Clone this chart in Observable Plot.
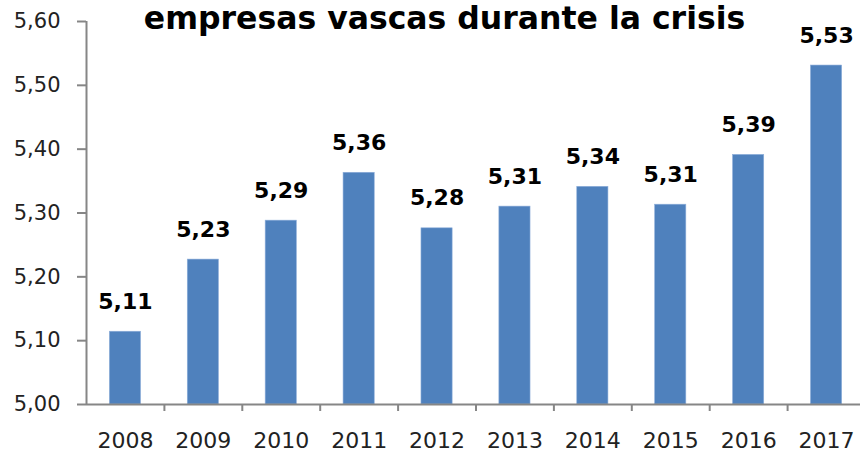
<!DOCTYPE html>
<html>
<head>
<meta charset="utf-8">
<script src="https://cdn.jsdelivr.net/npm/d3@7"></script>
<script src="https://cdn.jsdelivr.net/npm/@observablehq/plot@0.6"></script>
<style>
  html, body { margin: 0; padding: 0; background: #fff; }
  #chart svg { display: block; }
</style>
</head>
<body>
<div id="chart"></div>
<script>
const years = ["2008","2009","2010","2011","2012","2013","2014","2015","2016","2017"];
const values = [5.114, 5.227, 5.288, 5.363, 5.276, 5.310, 5.341, 5.313, 5.391, 5.531];
const yTicks = [5.0, 5.1, 5.2, 5.3, 5.4, 5.5, 5.6];
const title = "empresas vascas durante la crisis";

const data = years.map((y, i) => ({year: y, value: values[i]}));
const fmt = v => v.toFixed(2).replace(".", ",");

const W = 860, H = 452;
const xRange = [86, 865];
const step = (xRange[1] - xRange[0]) / years.length;
const axisColor = "#868686";
const yMin = yTicks[0], yMax = yTicks[yTicks.length - 1];

const chart = Plot.plot({
  width: W,
  height: H,
  marginLeft: 86,
  marginRight: 0,
  marginTop: 21,
  marginBottom: 48,
  style: {fontFamily: "DejaVu Sans", fontSize: "21px", color: "#222", background: "#fff"},
  x: {domain: years, range: xRange, paddingInner: 0.6, paddingOuter: 0.3, round: false, axis: null},
  y: {domain: [yMin, yMax], axis: null},
  marks: [
    Plot.barY(data, {x: "year", y1: yMin, y2: "value", fill: "#4F81BD", stroke: "#8EAEDA", strokeWidth: 0.6}),
    // y axis line (at left edge of first category slot)
    Plot.ruleX([years[0]], {x: d => d, dx: -step / 2, y1: yMin, y2: yMax, stroke: axisColor, strokeWidth: 2}),
    Plot.axisY({ticks: yTicks, tickFormat: fmt, tickSize: 9, tickPadding: 17, stroke: axisColor, strokeWidth: 2, fill: "#222", fontSize: 21, label: null}),
    // x axis line
    Plot.ruleY([yMin], {stroke: axisColor, strokeWidth: 2}),
    // x ticks between categories
    Plot.ruleX(years.slice(1), {x: d => d, dx: -step / 2, y1: yMin, y2: yMin - (yMax - yMin) * 7 / 383, stroke: axisColor, strokeWidth: 2}),
    // x tick labels
    Plot.text(years, {x: d => d, y: yMin, text: d => d, dy: 43, lineAnchor: "bottom", fontSize: 22, fill: "#222"}),
    // value labels
    Plot.text(data, {x: "year", y: "value", text: d => fmt(d.value), dy: -23, lineAnchor: "bottom", fontSize: 22, fontWeight: "bold", fill: "#000"}),
    // title
    Plot.text([title], {frameAnchor: "top", text: d => d, dx: -29, dy: 7, lineAnchor: "bottom", fontSize: 31.5, fontWeight: "bold", fill: "#000"})
  ]
});
document.getElementById("chart").appendChild(chart);
</script>
</body>
</html>
